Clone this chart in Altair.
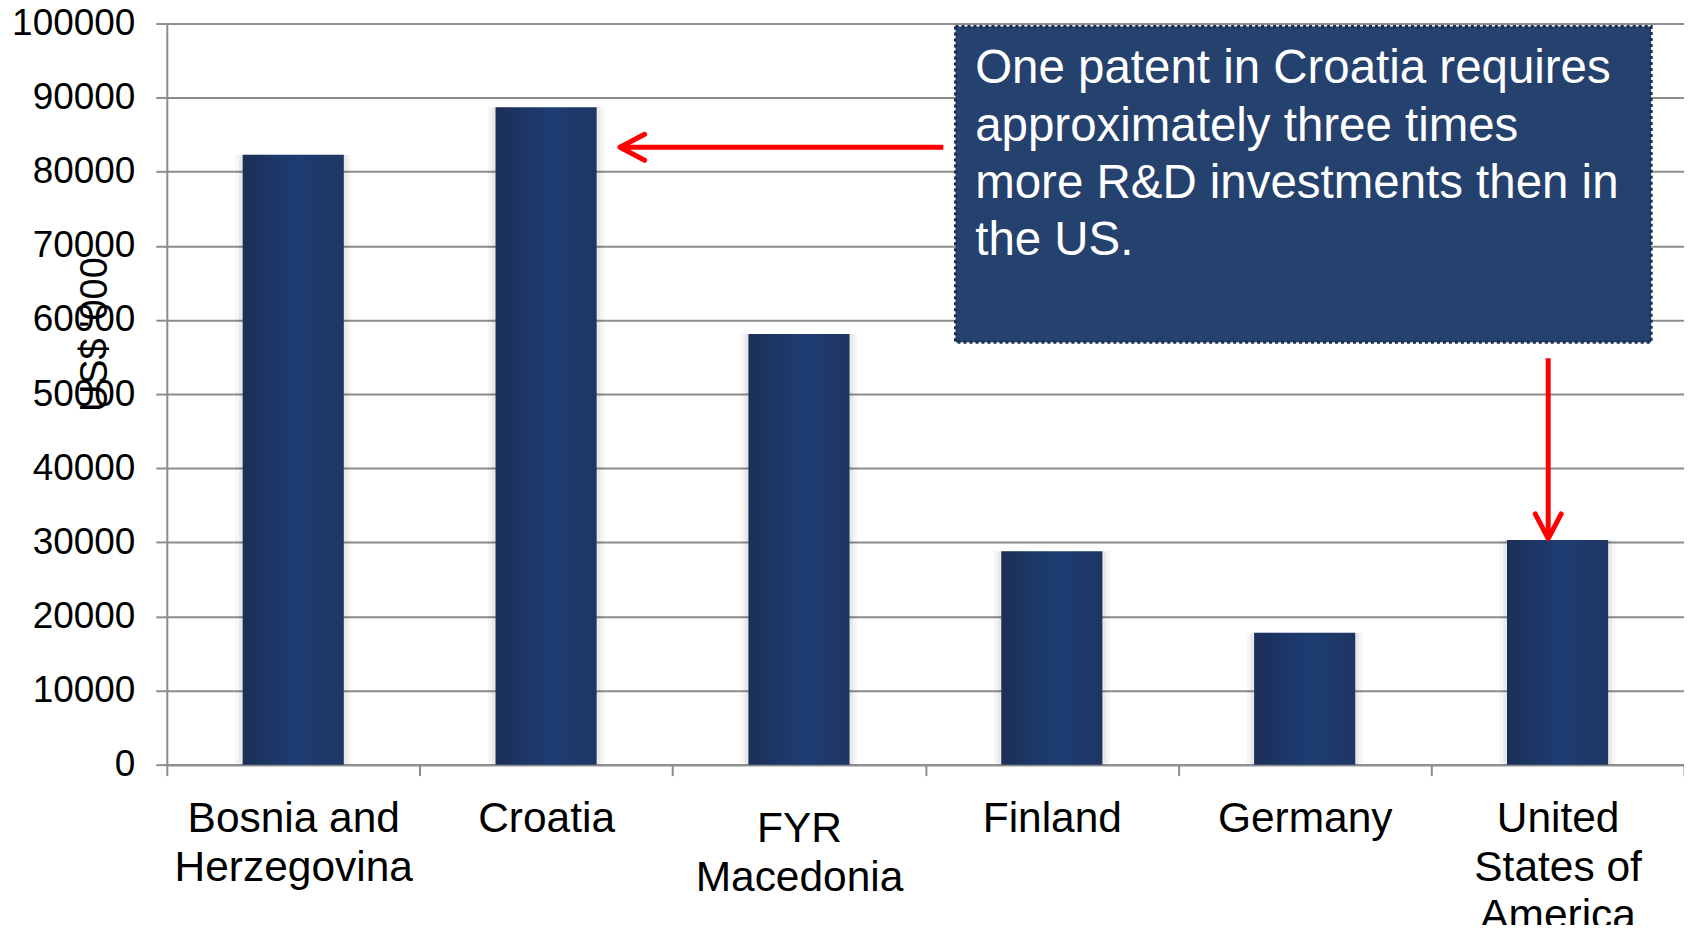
import altair as alt
import pandas as pd

# ---- data ----
categories = ["Bosnia and Herzegovina", "Croatia", "FYR Macedonia", "Finland",
              "Germany", "United States of America"]
values = [82300, 88700, 58100, 28800, 17800, 30300]
label_lines = [["Bosnia and", "Herzegovina"], ["Croatia"], ["FYR", "Macedonia"],
               ["Finland"], ["Germany"], ["United", "States of", "America"]]
y_ticks = list(range(0, 100001, 10000))
y_title = "US$ '000"

note_lines = ["One patent in Croatia requires", "approximately three times",
              "more R&D investments then in", "the US."]

# annotation anchors: x in category units (0..6), y in data units
box_x = [3.119, 5.870]
box_y = [99600, 57000]
note_pos = [3.197, 91950]
arrow_h = [3.071, 1.792, 83300]        # x from, x to (tip), y
arrow_v = [5.463, 54850, 30500]        # x, y from, y to (tip)

FONT = "Liberation Sans"
GRAY = "#8c8c8c"

bars_df = pd.DataFrame({"country": categories, "value": values})

label_map = "{" + ",".join(
    "'" + c + "':[" + ",".join("'" + l + "'" for l in lines) + "]"
    for c, lines in zip(categories, label_lines)) + "}[datum.value]"

x_enc = alt.X("country:N", sort=categories,
              scale=alt.Scale(paddingInner=0, paddingOuter=0),
              axis=alt.Axis(title=None, labelAngle=0, labelFont=FONT,
                            labelFontSize=42.5, labelColor="black",
                            labelExpr=label_map, labelLineHeight=48.6,
                            labelLimit=600, labelBaseline="top",
                            labelPadding={"condition": {"test": "datum.value == 'FYR Macedonia'", "value": 32},
                                          "value": 22},
                            tickBand="extent", tickSize=11, tickColor=GRAY,
                            tickWidth=2, domainColor=GRAY, domainWidth=2,
                            grid=False))
y_enc = alt.Y("value:Q",
              scale=alt.Scale(domain=[0, 100000], nice=False),
              axis=alt.Axis(values=y_ticks, format="d", title=y_title,
                            labelFont=FONT, labelFontSize=37, labelColor="black",
                            labelPadding=21, tickSize=11, tickColor=GRAY,
                            tickWidth=2, domainColor=GRAY, domainWidth=2,
                            gridColor=GRAY, gridWidth=2,
                            titleFont=FONT, titleFontSize=38,
                            titleFontWeight="normal", titleColor="black",
                            titleAngle=270, titleAlign="center",
                            titleBaseline="middle", titleX=-71, titleY=311))

shadow1 = alt.Chart(bars_df).mark_bar(
    width=alt.RelativeBandSize(0.46), color="#000000", opacity=0.035
).encode(x=x_enc, y=y_enc)
shadow2 = alt.Chart(bars_df).mark_bar(
    width=alt.RelativeBandSize(0.43), color="#000000", opacity=0.05
).encode(x=x_enc, y=y_enc)

bars = alt.Chart(bars_df).mark_bar(
    width=alt.RelativeBandSize(0.4),
    color=alt.Gradient(
        gradient="linear", x1=0, x2=1, y1=0, y2=0,
        stops=[alt.GradientStop(color="#1b2f58", offset=0),
               alt.GradientStop(color="#1e3d73", offset=0.55),
               alt.GradientStop(color="#1f3663", offset=1)]),
).encode(x=x_enc, y=y_enc)

bar_layer = alt.layer(shadow1, shadow2, bars)

xs = alt.Scale(domain=[0, 6], nice=False, zero=False)

box_df = pd.DataFrame({"x0": [box_x[0]], "x1": [box_x[1]],
                       "y0": [box_y[0]], "y1": [box_y[1]]})
box = alt.Chart(box_df).mark_rect(
    fill="#25426f", stroke="#1a2d55", strokeWidth=3, strokeDash=[3, 3]
).encode(
    x=alt.X("x0:Q", scale=xs, axis=None), x2="x1:Q",
    y=alt.Y("y0:Q"), y2="y1:Q")

note_df = pd.DataFrame({"x": [note_pos[0]], "y": [note_pos[1]]})
note = alt.Chart(note_df).mark_text(
    align="left", baseline="alphabetic", font=FONT, fontSize=47.5,
    lineHeight=57.4, color="white"
).encode(x=alt.X("x:Q", scale=xs, axis=None), y=alt.Y("y:Q"),
         text=alt.value(note_lines))

ah_df = pd.DataFrame({"x": [arrow_h[0]], "x2": [arrow_h[1]], "y": [arrow_h[2]]})
av_df = pd.DataFrame({"x": [arrow_v[0]], "y": [arrow_v[1]], "y2": [arrow_v[2]]})

RED = "#ff0000"
line_h = alt.Chart(ah_df).mark_rule(color=RED, strokeWidth=5).encode(
    x=alt.X("x:Q", scale=xs, axis=None), x2="x2:Q", y=alt.Y("y:Q"))
head_h = alt.Chart(ah_df).mark_point(
    shape="M1.9,-1L0,0L1.9,1", size=676, filled=False, stroke=RED,
    strokeWidth=5, opacity=1, strokeCap="round", strokeJoin="round"
).encode(x=alt.X("x2:Q", scale=xs, axis=None), y=alt.Y("y:Q"))

line_v = alt.Chart(av_df).mark_rule(color=RED, strokeWidth=5).encode(
    x=alt.X("x:Q", scale=xs, axis=None), y=alt.Y("y:Q"), y2="y2:Q")
head_v = alt.Chart(av_df).mark_point(
    shape="M-1,-1.9L0,0L1,-1.9", size=676, filled=False, stroke=RED,
    strokeWidth=5, opacity=1, strokeCap="round", strokeJoin="round"
).encode(x=alt.X("x:Q", scale=xs, axis=None), y=alt.Y("y2:Q"))

chart = alt.layer(bar_layer, box, note, line_h, head_h,
                  line_v, head_v).resolve_scale(
    x="independent"
).properties(
    width=1519, height=742,
    autosize=alt.AutoSizeParams(type="none"),
    padding={"left": 159, "top": 15, "right": 0, "bottom": 160},
    background="white",
).configure_view(stroke=None)

chart.save("out.html", embed_options={"renderer": "svg", "actions": False})
